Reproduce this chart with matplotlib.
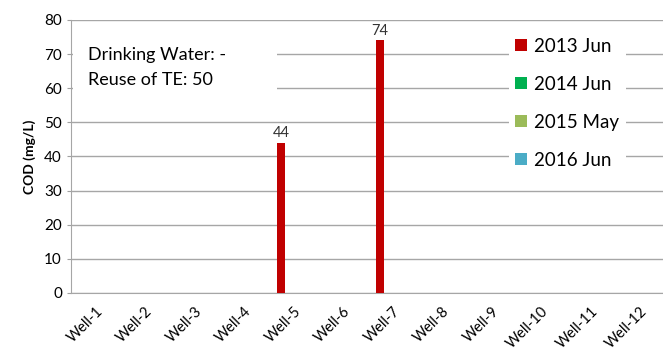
import numpy as np
import matplotlib.pyplot as plt
from matplotlib.patches import Patch, Rectangle

plt.rcParams['font.family'] = ['Lato', 'DejaVu Sans']

# data
wells = ['Well-1', 'Well-2', 'Well-3', 'Well-4', 'Well-5', 'Well-6',
         'Well-7', 'Well-8', 'Well-9', 'Well-10', 'Well-11', 'Well-12']
series = ['2013 Jun', '2014 Jun', '2015 May', '2016 Jun']
cod_2013 = [0, 0, 0, 0, 44, 0, 74, 0, 0, 0, 0, 0]
cod_2014 = [0] * 12
cod_2015 = [0] * 12
cod_2016 = [0] * 12
colors = ['#C00000', '#00B050', '#9BBB59', '#4BACC6']
yticks = [0, 10, 20, 30, 40, 50, 60, 70, 80]

fig = plt.figure(figsize=(6.63, 3.56), dpi=100)
ax = fig.add_axes([0.107, 0.177, 0.896, 0.767])

x = np.arange(len(wells))
w = 0.172
for i, (vals, c) in enumerate(zip([cod_2013, cod_2014, cod_2015, cod_2016], colors)):
    xs = x + (i - 1.5) * w
    ax.bar(xs, vals, width=w, color=c, zorder=3)
    for xi, v in zip(xs, vals):
        if v > 0:
            ax.text(xi, v + 0.8, str(v), ha='center', va='bottom', fontsize=10.5, color='#333333')

ax.set_xlim(-0.5, len(wells) - 0.5)
ax.set_ylim(0, 80)
ax.set_yticks(yticks)
ax.tick_params(axis='y', labelsize=11, length=3, color='#A0A0A0')
ax.tick_params(axis='x', length=0, labelsize=10.5, pad=8)
ax.set_xticks(x)
ax.set_xticklabels(wells, rotation=45, ha='right', rotation_mode='anchor')
ax.grid(axis='y', color='#A6A6A6', linewidth=1, zorder=0)
for s in ['top', 'right']:
    ax.spines[s].set_visible(False)
for s in ['left', 'bottom']:
    ax.spines[s].set_color('#A6A6A6')
ax.set_ylabel('COD (mg/L)', fontweight='bold', fontsize=10, labelpad=6)

# white background behind the note, hiding the gridlines
ax.add_patch(Rectangle((0.003, 0.68), 0.344, 0.27, transform=ax.transAxes,
                       facecolor='white', edgecolor='none', zorder=2))
ax.text(0.029, 0.825, 'Drinking Water: -\nReuse of TE: 50', transform=ax.transAxes,
        fontsize=13, va='center', ha='left', linespacing=1.65, zorder=5)

handles = [Patch(facecolor=c, label=s) for s, c in zip(series, colors)]
leg = ax.legend(handles=handles, loc='upper left', bbox_to_anchor=(0.737, 0.958),
                frameon=True, fontsize=13.5, handlelength=0.62, handleheight=0.62,
                handletextpad=0.4, labelspacing=1.12, borderpad=0.35, borderaxespad=0)
leg.get_frame().set_facecolor('white')
leg.get_frame().set_edgecolor('none')
leg.get_frame().set_alpha(1)
leg.set_zorder(6)

fig.savefig('out.png', dpi=100)
